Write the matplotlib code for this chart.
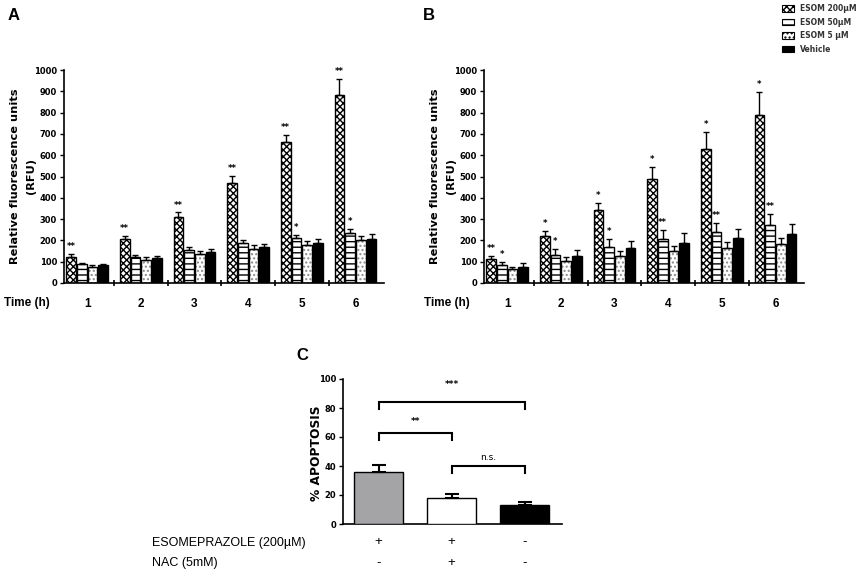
import matplotlib
matplotlib.use("Agg")
import matplotlib.pyplot as plt
import numpy as np
from matplotlib.patches import Patch

# ---------------- data ----------------
hours = ["1", "2", "3", "4", "5", "6"]
series = ["ESOM 200\u00b5M", "ESOM 50\u00b5M", "ESOM 5 \u00b5M", "Vehicle"]

A_esom200 = [124, 205, 310, 468, 660, 884]
A_esom200_err = [12, 17, 21, 33, 35, 72]
A_esom50 = [88, 124, 156, 186, 212, 236]
A_esom50_err = [4, 8, 11, 15, 13, 17]
A_esom5 = [77, 110, 135, 160, 178, 200]
A_esom5_err = [6, 10, 15, 18, 18, 22]
A_vehicle = [84, 119, 146, 170, 189, 208]
A_vehicle_err = [4, 8, 12, 14, 16, 20]
A_stars = [["**", "", "", ""], ["**", "", "", ""], ["**", "", "", ""],
           ["**", "", "", ""], ["**", "*", "", ""], ["**", "*", "", ""]]

B_esom200 = [114, 221, 341, 487, 631, 789]
B_esom200_err = [13, 25, 36, 59, 76, 109]
B_esom50 = [83, 130, 171, 207, 238, 272]
B_esom50_err = [17, 28, 34, 42, 45, 50]
B_esom5 = [67, 103, 127, 150, 164, 182]
B_esom5_err = [10, 17, 22, 24, 27, 29]
B_vehicle = [77, 127, 163, 189, 210, 230]
B_vehicle_err = [18, 26, 36, 44, 44, 47]
B_stars = [["**", "*", "", ""], ["*", "*", "", ""], ["*", "*", "", ""],
           ["*", "**", "", ""], ["*", "**", "", ""], ["*", "**", "", ""]]

C_groups = ["g1", "g2", "g3"]
C_values = [36, 18, 13]
C_errors = [4.5, 3, 2.5]
C_esome = ["+", "+", "-"]
C_nac = ["-", "+", "-"]
C_brackets = [(0, 2, 84, 79, "***", 96), (0, 1, 63, 58, "**", 70.5), (1, 2, 40, 35, "n.s.", 46)]

# ---------------- figure ----------------
W, H = 856, 572
fig = plt.figure(figsize=(W / 100, H / 100), dpi=100)
plt.rcParams['hatch.linewidth'] = 1.0

def ax_px(x0, y_top, w, h):
    return fig.add_axes([x0 / W, 1 - (y_top + h) / H, w / W, h / H])

BOLD = dict(family="Liberation Sans", fontweight="bold")
styles = [
    dict(hatch="xxxxx", fc="white", hc="black"),
    dict(hatch="---", fc="white", hc="black"),
    dict(hatch="....", fc="white", hc="#8a8a8a"),
    dict(hatch=None, fc="black", hc="black"),
]
offsets = [-0.3, -0.1, 0.1, 0.3]
bw = 0.18

def draw_panel(ax, vals, errs, stars):
    x = np.arange(len(hours))
    for k in range(4):
        st = styles[k]
        xs = x + offsets[k]
        if st["hatch"]:
            ax.bar(xs, vals[k], bw, color=st["fc"], hatch=st["hatch"],
                   edgecolor=st["hc"], linewidth=0, zorder=2)
            ax.bar(xs, vals[k], bw, color="none", edgecolor="black",
                   linewidth=1.0, zorder=3)
        else:
            ax.bar(xs, vals[k], bw, color="black", edgecolor="black",
                   linewidth=1.0, zorder=3)
        ax.errorbar(xs, vals[k], yerr=[np.zeros(len(x)), errs[k]], fmt="none",
                    ecolor="black", elinewidth=1.0, capsize=2.5, capthick=1.0, zorder=4)
        for i in range(len(x)):
            s = stars[i][k]
            if s:
                ax.text(xs[i], vals[k][i] + errs[k][i] + 35, s, ha="center", va="center",
                        fontsize=6, fontweight="bold", zorder=5)
    ax.set_xlim(-0.43, 5.53)
    ax.set_ylim(0, 1000)
    ax.set_yticks(np.arange(0, 1001, 100))
    ax.set_yticklabels([str(v) for v in range(0, 1001, 100)], fontsize=6, fontweight="bold")
    ax.set_xticks(np.arange(0.5, 5.0, 1.0))
    ax.set_xticklabels([])
    ax.set_xticks(x, minor=True)
    ax.set_xticklabels(hours, minor=True, fontsize=8.5, **BOLD)
    ax.tick_params(axis="x", which="minor", length=0, pad=11)
    ax.tick_params(axis="x", which="major", length=4, width=1.2, direction="inout")
    ax.tick_params(axis="y", length=3, width=1.0, pad=2)
    for sp in ["top", "right"]:
        ax.spines[sp].set_visible(False)
    for sp in ["left", "bottom"]:
        ax.spines[sp].set_linewidth(1.2)
    ax.set_ylabel("Relative fluorescence units\n(RFU)", fontsize=8.2, linespacing=1.75,
                  fontweight="bold", family="DejaVu Sans")
    ax.yaxis.set_label_coords(-0.088, 0.5)

axA = ax_px(64, 70, 320, 213)
draw_panel(axA, [A_esom200, A_esom50, A_esom5, A_vehicle],
           [A_esom200_err, A_esom50_err, A_esom5_err, A_vehicle_err], A_stars)
axB = ax_px(484, 70, 320, 213)
draw_panel(axB, [B_esom200, B_esom50, B_esom5, B_vehicle],
           [B_esom200_err, B_esom50_err, B_esom5_err, B_vehicle_err], B_stars)

fig.text(4 / W, 1 - 303 / H, "Time (h)", fontsize=8.5, va="center", ha="left", **BOLD)
fig.text(424 / W, 1 - 303 / H, "Time (h)", fontsize=8.5, va="center", ha="left", **BOLD)

fig.text(14 / W, 1 - 15 / H, "A", fontsize=12, ha="center", va="center", **BOLD)
fig.text(429 / W, 1 - 15 / H, "B", fontsize=12, ha="center", va="center", **BOLD)
fig.text(302 / W, 1 - 355 / H, "C", fontsize=12, ha="center", va="center", **BOLD)

# legend
handles = []
for k in range(4):
    st = styles[k]
    handles.append(Patch(facecolor=st["fc"], hatch=st["hatch"], edgecolor="black", linewidth=0.8))
leg = fig.legend(handles, series, loc="upper left", bbox_to_anchor=(779 / W, 1 - 1 / H),
                 frameon=False, fontsize=5.5, handlelength=1.6, handleheight=0.9,
                 labelspacing=0.6, handletextpad=0.8, borderaxespad=0)
for t in leg.get_texts():
    t.set_fontweight("bold")
    t.set_color("#333333")

# ---------------- panel C ----------------
axC = ax_px(343, 379, 219, 145)
xc = np.arange(len(C_groups))
c_colors = ["#a4a4a7", "white", "black"]
axC.bar(xc, C_values, 0.67, color=c_colors, edgecolor="black", linewidth=1.0, zorder=3)
axC.errorbar(xc, C_values, yerr=[np.zeros(3), C_errors], fmt="none", ecolor="black",
             elinewidth=1.5, capsize=5, capthick=1.5, zorder=4)
for (i, j, top, leg_y, lab, ly) in C_brackets:
    axC.plot([i, i, j, j], [leg_y, top, top, leg_y], color="black", lw=1.5,
             solid_joinstyle="miter", clip_on=False)
    axC.text((i + j) / 2, ly, lab, ha="center", va="center", fontsize=6.5,
             fontweight="bold" if lab != "n.s." else "normal")
axC.set_xlim(-0.486, 2.51)
axC.set_ylim(0, 100)
axC.set_yticks(np.arange(0, 101, 20))
axC.set_yticklabels([str(v) for v in range(0, 101, 20)], fontsize=6, fontweight="bold")
axC.set_xticks([])
for sp in ["top", "right"]:
    axC.spines[sp].set_visible(False)
for sp in ["left", "bottom"]:
    axC.spines[sp].set_linewidth(1.2)
axC.tick_params(axis="y", length=3, width=1.0, pad=2)
axC.set_ylabel("% APOPTOSIS", fontsize=8.8, fontweight="bold", family="DejaVu Sans")
axC.yaxis.set_label_coords(-0.09, 0.49)

for i in range(3):
    axC.text(xc[i], -0.124 * 100, C_esome[i], ha="center", va="center", fontsize=9.5,
             family="Liberation Sans", clip_on=False)
    axC.text(xc[i], -0.269 * 100, C_nac[i], ha="center", va="center", fontsize=9.5,
             family="Liberation Sans", clip_on=False)

fig.text(152 / W, 1 - 543 / H, "ESOMEPRAZOLE (200\u00b5M)", fontsize=9, ha="left",
         va="center", family="Liberation Sans")
fig.text(152 / W, 1 - 563 / H, "NAC (5mM)", fontsize=9, ha="left", va="center",
         family="Liberation Sans")

fig.savefig("out.png", dpi=100)
